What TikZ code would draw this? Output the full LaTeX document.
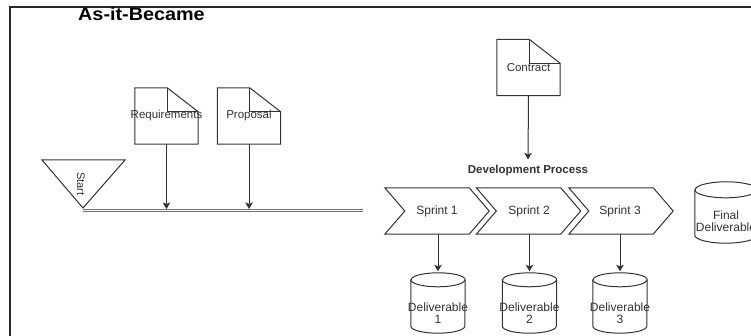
\documentclass[tikz,border=0pt]{standalone}
\usepackage{fontspec}
\setmainfont{Liberation Sans}
\usetikzlibrary{arrows.meta,calc}
\definecolor{ln}{HTML}{333333}
\definecolor{tx}{HTML}{333333}
\definecolor{dbl}{HTML}{707070}
\tikzset{
  shp/.style={draw=ln, line width=1pt, fill=white},
  lbl/.style={text=tx, font=\fontsize{11.5}{12.5}\selectfont, inner sep=0pt, align=center},
  conn/.style={draw=ln, line width=1pt, -{Stealth[length=6.5pt,width=7.5pt,inset=1.5pt]}},
  docbox/.style={minimum width=63pt, minimum height=56pt, inner sep=0pt},
  sprintbox/.style={minimum width=104pt, minimum height=46pt, inner sep=0pt},
  cylbox/.style={inner sep=0pt},
}
\newcommand{\docshape}[1]{%
  \draw[shp] (#1.south west) -- (#1.north west) -- ([xshift=-31pt]#1.north east) -- ([yshift=-24pt]#1.north east) -- (#1.south east) -- cycle;
  \draw[shp,fill=none] ([xshift=-31pt]#1.north east) -- ([xshift=-31pt,yshift=-24pt]#1.north east) -- ([yshift=-24pt]#1.north east);}
\newcommand{\chevshape}[1]{%
  \draw[shp] (#1.north west) -- ([xshift=-20pt]#1.north east) -- (#1.east) -- ([xshift=-20pt]#1.south east) -- (#1.south west) -- ([xshift=20pt]#1.west) -- cycle;}
\newcommand{\cylshape}[3]{%
  \draw[shp] ([yshift=-#3]#1.north west) -- ([yshift=#3]#1.south west)
     arc[start angle=180, end angle=360, x radius=#2, y radius=#3]
     -- ([yshift=-#3]#1.north east)
     arc[start angle=0, end angle=180, x radius=#2, y radius=#3] -- cycle;
  \draw[shp,fill=none] ([yshift=-#3]#1.north west) arc[start angle=180, end angle=360, x radius=#2, y radius=#3];}
\begin{document}
\begin{tikzpicture}[x=1pt,y=-1pt]
\useasboundingbox (0,0) rectangle (751,336);
\clip (0,0) rectangle (751,336);
\fill[white] (0,0) rectangle (751,336);
% frame
\draw[line width=2pt, black!85] (9.5,336) -- (9.5,7.5) -- (751,7.5);
% title
\node[anchor=base west, inner sep=0pt, font=\bfseries\fontsize{18}{18}\selectfont] (title) at (78,20.5) {\scalebox{1.1}[1]{As-it-Became}};

% start triangle and line
\coordinate (st1) at (42,160);
\coordinate (st2) at (125,160);
\coordinate (st3) at (83,208);
\draw[shp] (st1) -- (st2) -- (st3) -- cycle;
\node[lbl, rotate=-90, font=\fontsize{11}{12}\selectfont] (stt) at (81,184) {Start};
\coordinate (ls) at (83,210.6);
\coordinate (le) at (363,210.6);
\draw[dbl, line width=1pt, double=white, double distance=1.6pt] (ls) -- (le);

% documents
\node[docbox] (req) at (166.5,116) {};
\node[docbox] (prop) at (249,116) {};
\node[docbox] (con) at (528.5,67.5) {};
\docshape{req}
\docshape{prop}
\docshape{con}
\node[lbl] (reqt) at (req) {Requirements};
\node[lbl] (propt) at (prop) {Proposal};
\node[lbl] (cont) at (con) {Contract};

\draw[conn, shorten >=1.6pt] (req.south) -- (req.south |- ls);
\draw[conn, shorten >=1.6pt] (prop.south) -- (prop.south |- ls);

% development process
\node[inner sep=0pt, text=tx, font=\bfseries\fontsize{11.5}{12.5}\selectfont] (dp) at (528,171) {Development Process};
\draw[conn] (con.south) -- ([yshift=6pt]dp.north);

% sprints
\node[sprintbox] (s1) at (437,211) {};
\node[sprintbox] (s2) at (528.5,211) {};
\node[sprintbox] (s3) at (621,211) {};
\chevshape{s1}
\chevshape{s2}
\chevshape{s3}
\node[lbl, font=\fontsize{12}{13}\selectfont] (s1t) at (437,211) {Sprint 1};
\node[lbl, font=\fontsize{12}{13}\selectfont] (s2t) at (529,211) {Sprint 2};
\node[lbl, font=\fontsize{12}{13}\selectfont] (s3t) at (620,211) {Sprint 3};

% deliverables
\node[cylbox, minimum width=54pt, minimum height=60pt] (d1) at (438,303) {};
\node[cylbox, minimum width=54pt, minimum height=60pt] (d2) at (529.5,303) {};
\node[cylbox, minimum width=54pt, minimum height=60pt] (d3) at (620,303) {};
\node[cylbox, minimum width=62pt, minimum height=61pt] (fd) at (726,212.5) {};
\cylshape{d1}{27pt}{7pt}
\cylshape{d2}{27pt}{7pt}
\cylshape{d3}{27pt}{7pt}
\cylshape{fd}{31pt}{8pt}
\node[lbl, font=\fontsize{12}{12.5}\selectfont] (d1t) at (438,313) {Deliverable\\1};
\node[lbl, font=\fontsize{12}{12.5}\selectfont] (d2t) at (529.5,313) {Deliverable\\2};
\node[lbl, font=\fontsize{12}{12.5}\selectfont] (d3t) at (620,313) {Deliverable\\3};
\node[lbl, font=\fontsize{12}{12.5}\selectfont] (fdt) at (726,221) {Final\\Deliverable};

\draw[conn, shorten >=1.5pt] (s1.south -| d1.north) -- (d1.north);
\draw[conn, shorten >=1.5pt] (s2.south -| d2.north) -- (d2.north);
\draw[conn, shorten >=1.5pt] (s3.south -| d3.north) -- (d3.north);
\end{tikzpicture}
\end{document}
